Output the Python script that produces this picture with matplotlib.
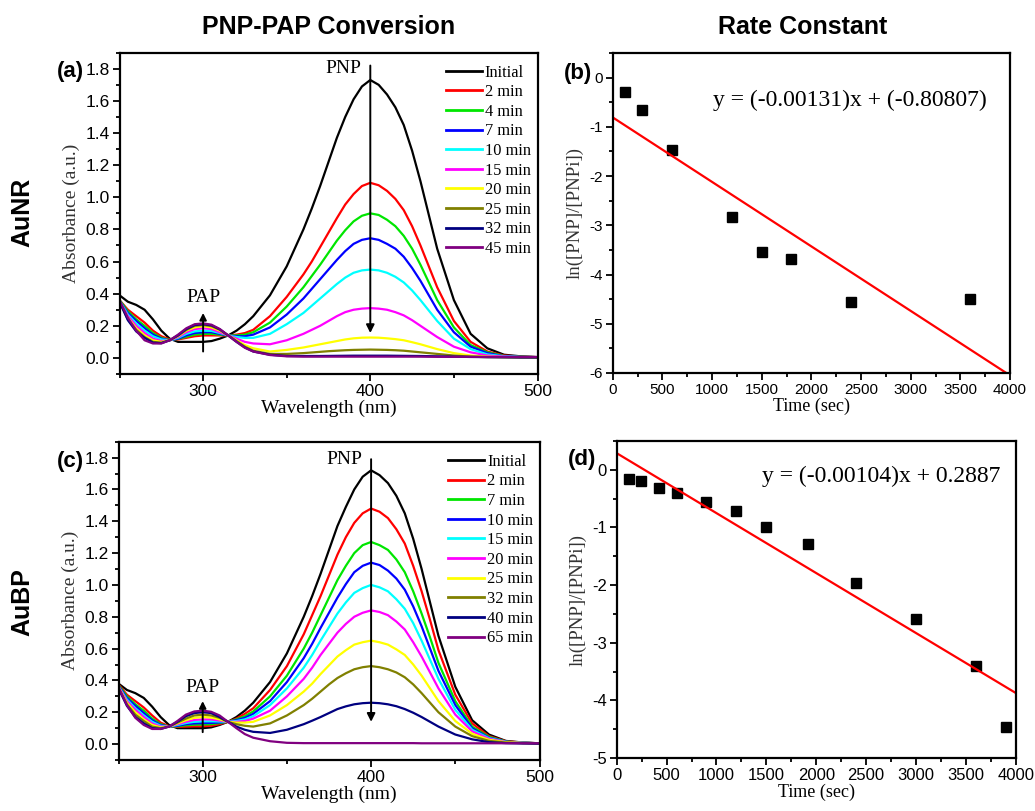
import matplotlib
matplotlib.use("Agg")
import matplotlib.pyplot as plt
from matplotlib.ticker import MultipleLocator
import numpy as np

plt.rcParams["axes.unicode_minus"] = False
SANS = "Liberation Sans"
SERIF = "Liberation Serif"

# ---------------- data ----------------
wavelength = [250, 255, 260, 265, 270, 275, 280, 285, 290, 295, 300, 305, 310, 315, 320, 325, 330,
              340, 350, 360, 365, 370, 375, 380, 385, 390, 395, 400, 405, 410, 415, 420, 425, 430, 435,
              440, 450, 460, 470, 480, 490, 500]

aunr_labels = ["Initial", "2 min", "4 min", "7 min", "10 min", "15 min", "20 min", "25 min", "32 min", "45 min"]
aubp_labels = ["Initial", "2 min", "7 min", "10 min", "15 min", "20 min", "25 min", "32 min", "40 min", "65 min"]
series_colors = ["#000000", "#ff0000", "#00e600", "#0000ff", "#00ffff", "#ff00ff",
                 "#ffff00", "#808000", "#000080", "#800080"]

aunr_initial = [0.39, 0.35, 0.33, 0.30, 0.24, 0.17, 0.12, 0.10, 0.10, 0.10, 0.10, 0.105, 0.12, 0.14, 0.17, 0.21, 0.26,
                0.39, 0.57, 0.80, 0.93, 1.07, 1.22, 1.37, 1.50, 1.61, 1.69, 1.73, 1.70, 1.64, 1.56, 1.45, 1.29, 1.10, 0.89,
                0.68, 0.36, 0.15, 0.06, 0.02, 0.01, 0.005]
aunr_2min = [0.36, 0.30, 0.26, 0.22, 0.17, 0.135, 0.115, 0.115, 0.125, 0.135, 0.14, 0.14, 0.14, 0.14, 0.145, 0.155, 0.175,
             0.26, 0.38, 0.52, 0.60, 0.69, 0.78, 0.87, 0.955, 1.02, 1.07, 1.09, 1.075, 1.04, 0.99, 0.92, 0.82, 0.70, 0.57,
             0.44, 0.23, 0.10, 0.04, 0.015, 0.008, 0.005]
aunr_4min = [0.36, 0.29, 0.24, 0.20, 0.155, 0.125, 0.112, 0.118, 0.132, 0.145, 0.15, 0.15, 0.145, 0.14, 0.14, 0.145, 0.16,
             0.22, 0.32, 0.44, 0.51, 0.58, 0.655, 0.73, 0.795, 0.85, 0.885, 0.90, 0.89, 0.86, 0.82, 0.76, 0.68, 0.58, 0.47,
             0.36, 0.19, 0.08, 0.035, 0.012, 0.007, 0.005]
aunr_7min = [0.355, 0.28, 0.23, 0.185, 0.145, 0.12, 0.11, 0.12, 0.14, 0.155, 0.16, 0.16, 0.15, 0.14, 0.135, 0.135, 0.145,
             0.19, 0.27, 0.37, 0.43, 0.49, 0.55, 0.61, 0.665, 0.71, 0.735, 0.745, 0.735, 0.71, 0.68, 0.63, 0.56, 0.48, 0.39,
             0.30, 0.16, 0.07, 0.03, 0.01, 0.006, 0.005]
aunr_10min = [0.355, 0.27, 0.215, 0.17, 0.135, 0.115, 0.11, 0.125, 0.15, 0.165, 0.17, 0.168, 0.155, 0.14, 0.13, 0.125, 0.125,
              0.15, 0.21, 0.28, 0.325, 0.37, 0.415, 0.46, 0.50, 0.53, 0.545, 0.55, 0.545, 0.53, 0.505, 0.47, 0.42, 0.36, 0.295,
              0.23, 0.12, 0.055, 0.022, 0.01, 0.006, 0.005]
aunr_15min = [0.35, 0.26, 0.20, 0.155, 0.12, 0.105, 0.11, 0.13, 0.16, 0.18, 0.185, 0.18, 0.16, 0.14, 0.12, 0.10, 0.09,
              0.085, 0.11, 0.15, 0.175, 0.20, 0.23, 0.26, 0.285, 0.30, 0.307, 0.31, 0.307, 0.30, 0.285, 0.265, 0.235, 0.20, 0.165,
              0.13, 0.07, 0.035, 0.015, 0.008, 0.005, 0.004]
aunr_20min = [0.35, 0.25, 0.185, 0.14, 0.11, 0.10, 0.11, 0.135, 0.17, 0.19, 0.198, 0.19, 0.17, 0.14, 0.11, 0.08, 0.06,
              0.04, 0.05, 0.065, 0.075, 0.085, 0.095, 0.105, 0.115, 0.122, 0.126, 0.127, 0.126, 0.122, 0.117, 0.11, 0.098, 0.085, 0.07,
              0.055, 0.03, 0.015, 0.008, 0.005, 0.004, 0.003]
aunr_25min = [0.35, 0.24, 0.175, 0.13, 0.10, 0.095, 0.11, 0.14, 0.175, 0.20, 0.205, 0.198, 0.175, 0.14, 0.105, 0.07, 0.045,
              0.025, 0.025, 0.03, 0.034, 0.038, 0.042, 0.045, 0.048, 0.05, 0.051, 0.052, 0.051, 0.05, 0.048, 0.045, 0.04, 0.035, 0.03,
              0.025, 0.015, 0.008, 0.005, 0.004, 0.003, 0.003]
aunr_32min = [0.35, 0.235, 0.165, 0.125, 0.095, 0.092, 0.11, 0.14, 0.18, 0.205, 0.21, 0.203, 0.178, 0.14, 0.10, 0.065, 0.04,
              0.02, 0.012, 0.012, 0.012, 0.012, 0.0125, 0.013, 0.0135, 0.014, 0.014, 0.014, 0.014, 0.014, 0.0135, 0.013, 0.0125, 0.012, 0.011,
              0.01, 0.008, 0.006, 0.005, 0.004, 0.003, 0.003]
aunr_45min = [0.36, 0.25, 0.17, 0.11, 0.09, 0.09, 0.11, 0.145, 0.185, 0.21, 0.215, 0.207, 0.18, 0.14, 0.10, 0.063, 0.04,
              0.018, 0.01, 0.008, 0.008, 0.008, 0.008, 0.008, 0.008, 0.008, 0.008, 0.008, 0.008, 0.008, 0.008, 0.008, 0.008, 0.008, 0.0075,
              0.007, 0.007, 0.007, 0.006, 0.006, 0.006, 0.006]

aubp_initial = [0.38, 0.34, 0.32, 0.29, 0.235, 0.17, 0.12, 0.10, 0.10, 0.10, 0.10, 0.105, 0.12, 0.14, 0.17, 0.21, 0.26,
                0.39, 0.57, 0.80, 0.93, 1.07, 1.22, 1.37, 1.49, 1.60, 1.68, 1.72, 1.69, 1.64, 1.56, 1.45, 1.29, 1.10, 0.89,
                0.68, 0.36, 0.15, 0.06, 0.02, 0.01, 0.005]
aubp_2min = [0.375, 0.31, 0.27, 0.23, 0.18, 0.135, 0.112, 0.108, 0.11, 0.112, 0.112, 0.115, 0.125, 0.14, 0.16, 0.19, 0.225,
             0.34, 0.49, 0.69, 0.81, 0.93, 1.06, 1.19, 1.30, 1.39, 1.45, 1.48, 1.46, 1.42, 1.35, 1.26, 1.12, 0.96, 0.78,
             0.59, 0.31, 0.13, 0.05, 0.018, 0.009, 0.005]
aubp_7min = [0.37, 0.30, 0.25, 0.21, 0.16, 0.125, 0.11, 0.112, 0.118, 0.122, 0.123, 0.125, 0.132, 0.14, 0.155, 0.175, 0.205,
             0.30, 0.43, 0.60, 0.70, 0.81, 0.92, 1.03, 1.12, 1.20, 1.25, 1.27, 1.25, 1.22, 1.16, 1.08, 0.96, 0.82, 0.67,
             0.51, 0.27, 0.11, 0.045, 0.016, 0.008, 0.005]
aubp_10min = [0.365, 0.29, 0.24, 0.195, 0.15, 0.12, 0.11, 0.115, 0.125, 0.13, 0.132, 0.133, 0.136, 0.14, 0.15, 0.165, 0.19,
              0.27, 0.39, 0.54, 0.63, 0.73, 0.825, 0.92, 1.005, 1.08, 1.12, 1.14, 1.125, 1.09, 1.04, 0.97, 0.865, 0.74, 0.60,
              0.46, 0.245, 0.10, 0.04, 0.015, 0.008, 0.005]
aubp_15min = [0.36, 0.28, 0.225, 0.18, 0.14, 0.115, 0.11, 0.12, 0.132, 0.14, 0.143, 0.143, 0.142, 0.14, 0.145, 0.155, 0.175,
              0.245, 0.35, 0.48, 0.56, 0.65, 0.735, 0.82, 0.89, 0.95, 0.98, 1.00, 0.985, 0.96, 0.91, 0.85, 0.76, 0.65, 0.53,
              0.41, 0.215, 0.09, 0.037, 0.014, 0.008, 0.005]
aubp_20min = [0.36, 0.27, 0.215, 0.17, 0.13, 0.11, 0.11, 0.125, 0.14, 0.152, 0.155, 0.155, 0.148, 0.14, 0.14, 0.145, 0.16,
              0.21, 0.30, 0.41, 0.48, 0.56, 0.63, 0.70, 0.755, 0.80, 0.825, 0.84, 0.83, 0.81, 0.77, 0.72, 0.64, 0.55, 0.45,
              0.35, 0.185, 0.08, 0.033, 0.013, 0.007, 0.005]
aubp_25min = [0.355, 0.26, 0.20, 0.155, 0.12, 0.105, 0.11, 0.13, 0.15, 0.165, 0.17, 0.167, 0.155, 0.14, 0.135, 0.135, 0.14,
              0.18, 0.245, 0.33, 0.38, 0.44, 0.495, 0.55, 0.59, 0.625, 0.64, 0.65, 0.64, 0.625, 0.595, 0.56, 0.50, 0.43, 0.35,
              0.27, 0.145, 0.065, 0.027, 0.012, 0.007, 0.005]
aubp_32min = [0.355, 0.25, 0.185, 0.145, 0.11, 0.10, 0.11, 0.135, 0.16, 0.18, 0.185, 0.18, 0.165, 0.14, 0.125, 0.115, 0.11,
              0.13, 0.18, 0.245, 0.285, 0.33, 0.375, 0.415, 0.445, 0.47, 0.483, 0.49, 0.483, 0.47, 0.45, 0.42, 0.375, 0.32, 0.26,
              0.20, 0.11, 0.05, 0.02, 0.01, 0.006, 0.005]
aubp_40min = [0.35, 0.24, 0.17, 0.13, 0.10, 0.095, 0.11, 0.14, 0.175, 0.195, 0.20, 0.195, 0.17, 0.14, 0.11, 0.09, 0.077,
              0.07, 0.09, 0.125, 0.147, 0.17, 0.195, 0.22, 0.237, 0.25, 0.257, 0.26, 0.257, 0.25, 0.238, 0.22, 0.197, 0.17, 0.14,
              0.11, 0.06, 0.03, 0.012, 0.006, 0.004, 0.003]
aubp_65min = [0.355, 0.245, 0.165, 0.12, 0.095, 0.095, 0.11, 0.145, 0.185, 0.205, 0.21, 0.203, 0.18, 0.14, 0.10, 0.063, 0.04,
              0.018, 0.008, 0.006, 0.006, 0.006, 0.006, 0.006, 0.006, 0.006, 0.006, 0.006, 0.006, 0.006, 0.006, 0.006, 0.006, 0.005, 0.005,
              0.005, 0.005, 0.005, 0.005, 0.005, 0.005, 0.005]

aunr_time = [120, 300, 600, 1200, 1500, 1800, 2400, 3600]
aunr_lnratio = [-0.30, -0.65, -1.48, -2.84, -3.54, -3.69, -4.55, -4.50]
aunr_slope, aunr_intercept = -0.00131, -0.80807

aubp_time = [120, 240, 420, 600, 900, 1200, 1500, 1920, 2400, 3000, 3600, 3900]
aubp_lnratio = [-0.16, -0.20, -0.31, -0.41, -0.55, -0.72, -0.99, -1.29, -1.97, -2.59, -3.40, -4.46]
aubp_slope, aubp_intercept = -0.00104, 0.2887

aunr_series = [aunr_initial, aunr_2min, aunr_4min, aunr_7min, aunr_10min,
               aunr_15min, aunr_20min, aunr_25min, aunr_32min, aunr_45min]
aubp_series = [aubp_initial, aubp_2min, aubp_7min, aubp_10min, aubp_15min,
               aubp_20min, aubp_25min, aubp_32min, aubp_40min, aubp_65min]

# ---------------- figure ----------------
W, H = 1035, 811
fig = plt.figure(figsize=(W / 100, H / 100), dpi=100)


def rect(left, top, right, bottom):
    return [left / W, 1 - bottom / H, (right - left) / W, (bottom - top) / H]


ax_a = fig.add_axes(rect(119.5, 52.7, 537.5, 374))
ax_b = fig.add_axes(rect(612.7, 53, 1010, 373))
ax_c = fig.add_axes(rect(118.5, 441.7, 539.5, 760))
ax_d = fig.add_axes(rect(616.7, 441, 1015.7, 758))


def style_axes(ax, fs):
    for s in ax.spines.values():
        s.set_linewidth(1.6)
    ax.tick_params(which="both", direction="out", top=False, right=False, width=1.3)
    ax.tick_params(which="major", length=5, labelsize=fs, pad=2)
    ax.tick_params(which="minor", length=3)
    for lab in ax.get_xticklabels() + ax.get_yticklabels():
        lab.set_fontfamily(SANS)


def spectra_panel(ax, series, labels, leg_anchor, pnp_arrow, pap_arrow, pnp_txt, pap_txt):
    for ys, lab, col in zip(series, labels, series_colors):
        ax.plot(wavelength, ys, color=col, lw=1.6, label=lab)
    ax.set_xlim(250, 500)
    ax.set_ylim(-0.1, 1.9)
    ax.xaxis.set_major_locator(MultipleLocator(100))
    ax.xaxis.set_minor_locator(MultipleLocator(50))
    ax.yaxis.set_major_locator(MultipleLocator(0.2))
    ax.yaxis.set_minor_locator(MultipleLocator(0.1))
    ax.yaxis.set_major_formatter(plt.FuncFormatter(lambda v, p: f"{v:.1f}"))
    style_axes(ax, 12.5)
    ax.set_xlabel("Wavelength (nm)", family=SERIF, fontsize=14, labelpad=1)
    ax.set_ylabel("Absorbance (a.u.)", family=SERIF, fontsize=14, labelpad=4, color="#333333")
    leg = ax.legend(loc="upper left", bbox_to_anchor=leg_anchor, frameon=False,
                    prop={"family": SERIF, "size": 11.8}, handlelength=2.2, handletextpad=0.2,
                    labelspacing=0.22, borderpad=0, borderaxespad=0)
    for ln in leg.get_lines():
        ln.set_linewidth(2.0)
    ax.annotate("", xy=(400, pnp_arrow[1]), xytext=(400, pnp_arrow[0]),
                arrowprops=dict(arrowstyle="-|>", color="black", lw=1.4, mutation_scale=12,
                                shrinkA=0, shrinkB=0))
    ax.annotate("", xy=(300, pap_arrow[1]), xytext=(300, pap_arrow[0]),
                arrowprops=dict(arrowstyle="-|>", color="black", lw=1.4, mutation_scale=10,
                                shrinkA=0, shrinkB=0))
    ax.text(384, pnp_txt, "PNP", family=SERIF, fontsize=14, ha="center", va="center")
    ax.text(300, pap_txt, "PAP", family=SERIF, fontsize=14, ha="center", va="center")


spectra_panel(ax_a, aunr_series, aunr_labels, (0.78, 0.963), (1.82, 0.155), (0.04, 0.28), 1.80, 0.375)
spectra_panel(ax_c, aubp_series, aubp_labels, (0.783, 0.962), (1.79, 0.14), (0.075, 0.27), 1.79, 0.355)


def rate_panel(ax, t, lnr, slope, intercept, ylim, eq, eq_pos, fs):
    ax.plot(t, lnr, linestyle="none", marker="s", color="black", markersize=6.5)
    xlim = (0, 4000)
    xs = np.array(xlim, dtype=float)
    ax.plot(xs, slope * xs + intercept, color="#ff0000", lw=1.6)
    ax.set_xlim(*xlim)
    ax.set_ylim(*ylim)
    ax.xaxis.set_major_locator(MultipleLocator(500))
    ax.xaxis.set_minor_locator(MultipleLocator(250))
    ax.yaxis.set_major_locator(MultipleLocator(1))
    ax.yaxis.set_minor_locator(MultipleLocator(0.5))
    style_axes(ax, fs)
    ax.set_xlabel("Time (sec)", family=SERIF, fontsize=13, labelpad=1)
    ax.set_ylabel("ln([PNP]/[PNPi])", family=SERIF, fontsize=13.5, labelpad=4, color="#333333")
    ax.text(eq_pos[0], eq_pos[1], eq, transform=ax.transAxes, family=SERIF, fontsize=17,
            ha="center", va="center")


rate_panel(ax_b, aunr_time, aunr_lnratio, aunr_slope, aunr_intercept, (-6, 0.5),
           "y = (-0.00131)x + (-0.80807)", (0.597, 0.853), 11)
rate_panel(ax_d, aubp_time, aubp_lnratio, aubp_slope, aubp_intercept, (-5, 0.5),
           "y = (-0.00104)x + 0.2887", (0.664, 0.887), 12)

# panel letters & titles
for txt, x, y in [("(a)", 84, 72), ("(b)", 592, 73), ("(c)", 83.5, 462), ("(d)", 596, 459)]:
    fig.text(x / W, 1 - y / H, txt, family=SANS, fontweight="bold", fontsize=16,
             ha="right", va="center")

fig.text(329 / W, 1 - 27 / H, "PNP-PAP Conversion", family=SANS, fontweight="bold",
         fontsize=18, ha="center", va="center")
fig.text(803 / W, 1 - 27 / H, "Rate Constant", family=SANS, fontweight="bold",
         fontsize=18, ha="center", va="center")
fig.text(22 / W, 1 - 212 / H, "AuNR", family=SANS, fontweight="bold", fontsize=18,
         ha="center", va="center", rotation=90)
fig.text(22 / W, 1 - 602 / H, "AuBP", family=SANS, fontweight="bold", fontsize=18,
         ha="center", va="center", rotation=90)

fig.savefig("out.png", dpi=100)
